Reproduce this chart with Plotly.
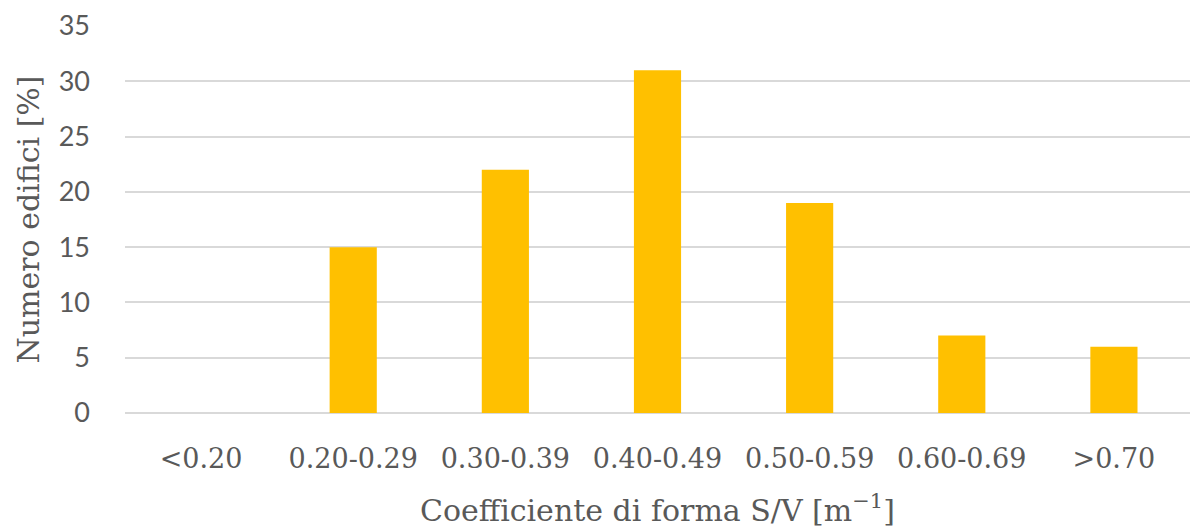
import plotly.graph_objects as go

# Shape-factor classes and share of buildings in each class
categories = ["<0.20", "0.20-0.29", "0.30-0.39", "0.40-0.49", "0.50-0.59", "0.60-0.69", ">0.70"]
percent_buildings = [0, 15, 22, 31, 19, 7, 6]
y_ticks = [0, 5, 10, 15, 20, 25, 30, 35]

grey = "#595959"
serif = "DejaVu Serif"
sans = "Lato"

fig = go.Figure(
    go.Bar(
        x=categories,
        y=percent_buildings,
        marker=dict(color="#FFC000", line=dict(width=0)),
    )
)

fig.update_layout(
    width=1190,
    height=528,
    margin=dict(l=125, r=0, t=26, b=115),
    paper_bgcolor="white",
    plot_bgcolor="white",
    bargap=0.69,
    showlegend=False,
)

fig.update_xaxes(
    type="category",
    tickfont=dict(family=serif, size=27, color=grey),
    ticklabelstandoff=27,
    showgrid=False,
    showline=False,
    title=dict(
        text="Coefficiente di forma S/V [m<sup>−1</sup>]",
        font=dict(family=serif, size=30, color=grey),
        standoff=26,
    ),
)

fig.update_yaxes(
    range=[0, 35],
    tickvals=y_ticks,
    tickfont=dict(family=sans, size=27, color=grey),
    ticklabelstandoff=34,
    showgrid=True,
    gridcolor="#d9d9d9",
    gridwidth=1.5,
    zeroline=True,
    zerolinecolor="#d9d9d9",
    zerolinewidth=1.5,
    showline=False,
    title=dict(
        text="Numero edifici [%]",
        font=dict(family=serif, size=30, color=grey),
        standoff=10,
    ),
)

fig.write_html("out.html")
